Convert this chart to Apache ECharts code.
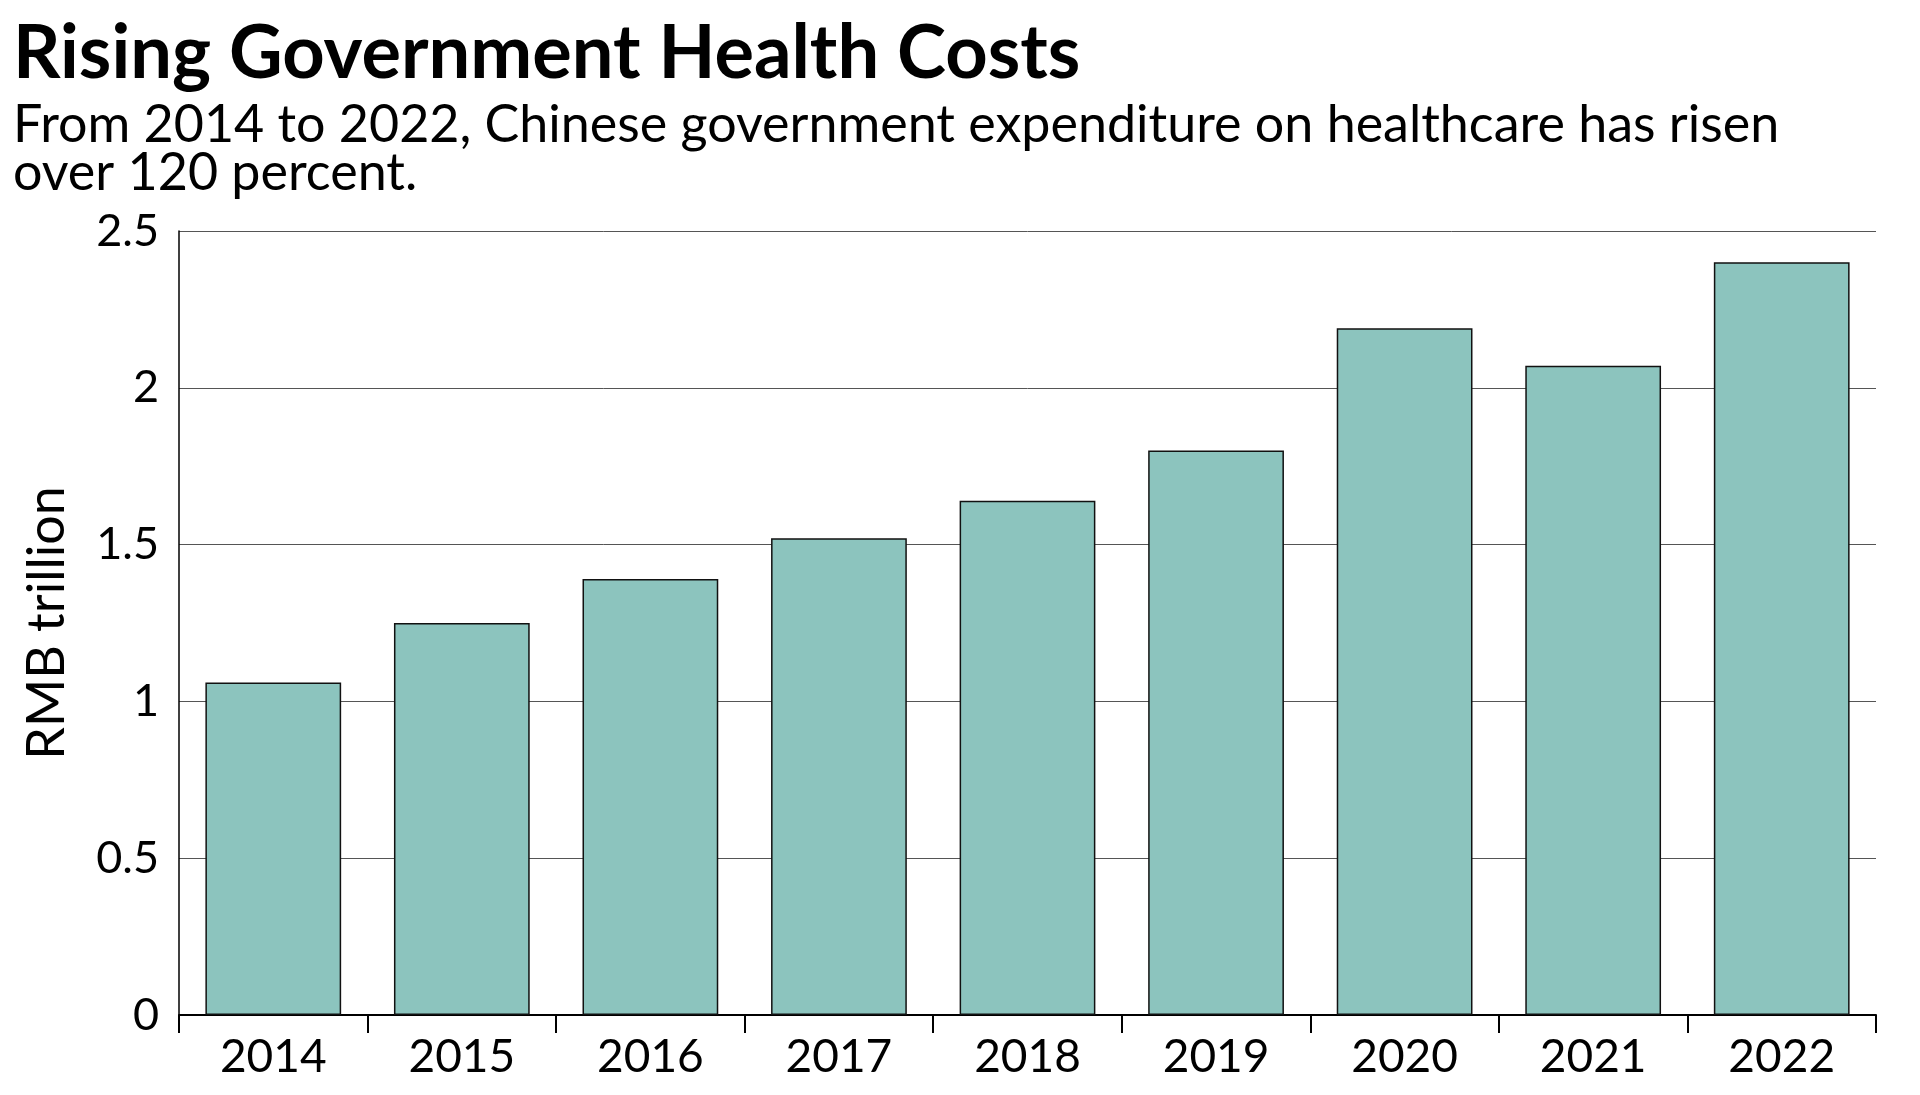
<!DOCTYPE html>
<html>
<head>
<meta charset="utf-8">
<script src="https://cdn.jsdelivr.net/npm/echarts@6/dist/echarts.min.js"></script>
<style>
html,body{margin:0;padding:0;background:#fff;}
#chart{width:1920px;height:1095px;}
</style>
</head>
<body>
<div id="chart"></div>
<script>
var categories = ['2014','2015','2016','2017','2018','2019','2020','2021','2022'];
var values = [1.06, 1.25, 1.39, 1.52, 1.64, 1.80, 2.19, 2.07, 2.40];
var yTicks = [0, 0.5, 1, 1.5, 2, 2.5];
var titleText = 'Rising Government Health Costs';
var subText = 'From 2014 to 2022, Chinese government expenditure on healthcare has risen\nover 120 percent.';
var yName = 'RMB trillion';

var FONT = 'Lato, "Open Sans", sans-serif';
var chart = echarts.init(document.getElementById('chart'));
chart.setOption({
  backgroundColor: '#fff',
  animation: false,
  title: {
    text: titleText,
    subtext: subText,
    left: 8,
    top: 12,
    itemGap: 10,
    textStyle: {fontFamily: FONT, fontSize: 74, fontWeight: 'bold', color: '#000'},
    subtextStyle: {fontFamily: FONT, fontSize: 52, color: '#000', lineHeight: 48}
  },
  grid: {left: 179, right: 44, top: 231, bottom: 80},
  xAxis: {
    type: 'category',
    data: categories,
    axisLine: {lineStyle: {color: '#000', width: 2}},
    axisTick: {show: true, length: 18, lineStyle: {color: '#000', width: 2}},
    axisLabel: {fontFamily: FONT, fontSize: 46, color: '#000', margin: 19}
  },
  yAxis: {
    type: 'value',
    min: 0, max: 2.5, interval: 0.5,
    name: yName,
    nameLocation: 'middle',
    nameGap: 106,
    nameTextStyle: {fontFamily: FONT, fontSize: 52, color: '#000'},
    axisLine: {show: true, lineStyle: {color: '#000', width: 1.5}},
    axisTick: {show: false},
    axisLabel: {fontFamily: FONT, fontSize: 45, color: '#000', margin: 20,
      formatter: function(v){ return yTicks.indexOf(v) >= 0 ? String(v) : ''; }},
    splitLine: {lineStyle: {color: '#555', width: 1}}
  },
  series: [{
    type: 'bar',
    data: values,
    barCategoryGap: '28%',
    itemStyle: {color: '#8CC4BE', borderColor: '#111', borderWidth: 1.5}
  }]
});
</script>
</body>
</html>
